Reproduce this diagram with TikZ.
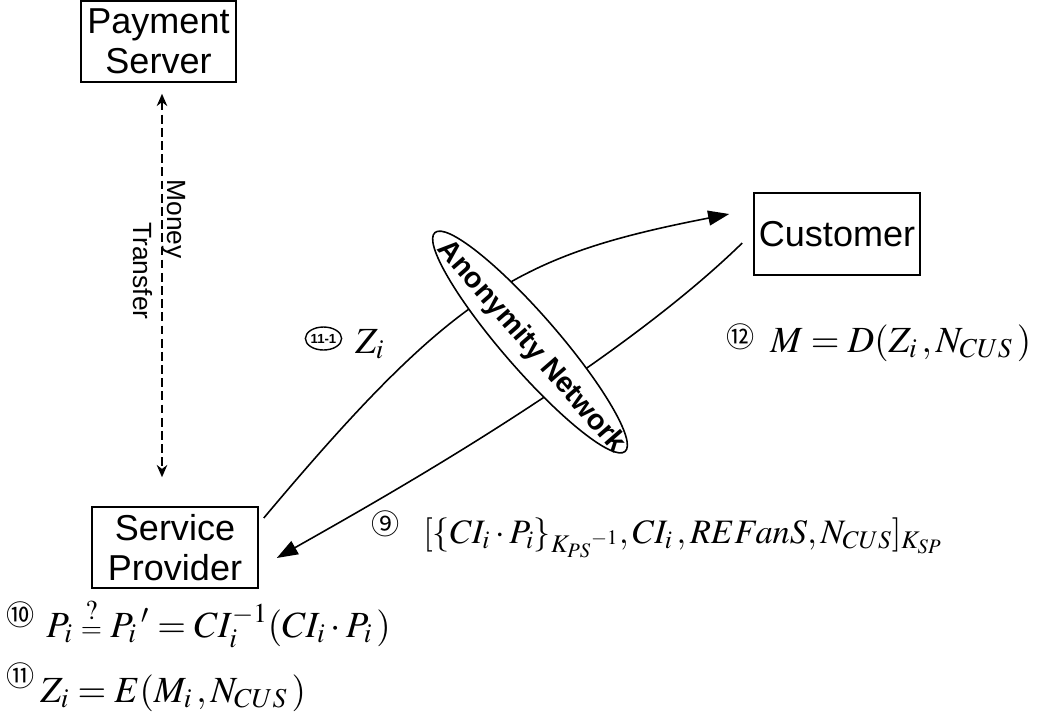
\documentclass[tikz,border=0pt]{standalone}
\usepackage{amsmath}
\usepackage{mathptmx}
\usepackage[no-math]{fontspec}
\setmainfont{Liberation Sans}
\newfontfamily\circfont{Noto Sans CJK SC}
\usetikzlibrary{arrows.meta,positioning,shapes.geometric}

\begin{document}
\begin{tikzpicture}[x=0.02cm, y=-0.02cm,
        party/.style={draw, line width=0.9pt, align=center, inner sep=0pt,
                      font=\fontsize{20.5}{23}\selectfont},
        flow/.style={-{Triangle[length=12pt, width=8.5pt]}, line width=0.9pt},
        cash/.style={{Stealth[length=7pt, width=6pt]}-{Stealth[length=7pt, width=6pt]},
                     dash pattern=on 5pt off 2.5pt, line width=0.8pt},
        cashtext/.style={rotate=-90, anchor=base, inner sep=0pt, font=\fontsize{15}{17}\selectfont},
        formula/.style={anchor=base west, inner sep=0pt, font=\fontsize{21}{24}\selectfont},
        stepnum/.style={inner sep=0pt, font=\circfont\fontsize{16}{16}\selectfont}
    ]
    \useasboundingbox (0,0) rectangle (1050,721);

    \node[party, minimum width=3.1cm, minimum height=1.62cm] (pay) at (158.5,41.5) {Payment\\Server};
    \node[party, minimum width=3.32cm, minimum height=1.64cm] (cust) at (837,234) {Customer};
    \node[party, minimum width=3.32cm, minimum height=1.62cm] (sp) at (175,547.5) {Service\\Provider};

    % money transfer between payment server and service provider
    \draw[cash] ([xshift=0.07cm, yshift=-0.22cm]pay.south) -- ([xshift=0.07cm, yshift=0.58cm]pay.south |- sp.north);
    \node[cashtext] (money) at (167,219) {Money};
    \node[cashtext] (transfer) at (133,271) {Transfer};

    % messages through the anonymity network
    \draw[flow] ([shift={(5,-29.5)}]sp.east) .. controls (455,290) and (520,255) .. ([shift={(-24,-20)}]cust.west);
    \draw[flow] ([shift={(-11,9)}]cust.west) .. controls (610,372) and (370,505) .. ([shift={(18,10.5)}]sp.east);

    \coordinate (anetc) at (530,342);
    \draw[line width=0.9pt, fill=white, rotate around={-49:(anetc)}] (anetc) ellipse [x radius=2.9cm, y radius=0.55cm];
    \node[rotate=-49, inner sep=0pt, font=\fontsize{16.4}{18}\selectfont\bfseries] (anet) at (531,347) {Anonymity Network};

    % step labels
    \node[draw, ellipse, line width=0.8pt, inner sep=0pt, minimum width=0.66cm, minimum height=0.46cm,
          font=\fontsize{7.5}{8}\selectfont\bfseries] (s111) at (323.5,338.5) {11-1};
    \node[formula] (z111) at (355,353) {$Z_i$};

    \node[stepnum] (s12) at (741,337) {⑫};
    \node[formula] (f12) at (770,352) {$M = D(Z_i\,, N_{CUS}\,)$};

    \node[stepnum] (s9) at (386,524) {⑨};
    \node[formula, font=\fontsize{19.5}{22}\selectfont] (f9) at (423,543) {$[\{CI_i\cdot P_i\}_{K_{PS}{}^{-1}}, CI_i\,, REFanS, N_{CUS}]_{K_{SP}}$};

    \node[stepnum] (s10) at (21,615) {⑩};
    \node[formula] (f10) at (46,637) {$P_i \mathrel{\stackrel{?}{\scriptstyle =}} {P_i}\,' = CI_i^{-1}(CI_i\cdot P_i\,)$};

    \node[stepnum] (s11) at (21,676) {⑪};
    \node[formula] (f11) at (40,702) {$Z_i = E(M_i\,, N_{CUS}\,)$};
\end{tikzpicture}
\end{document}
